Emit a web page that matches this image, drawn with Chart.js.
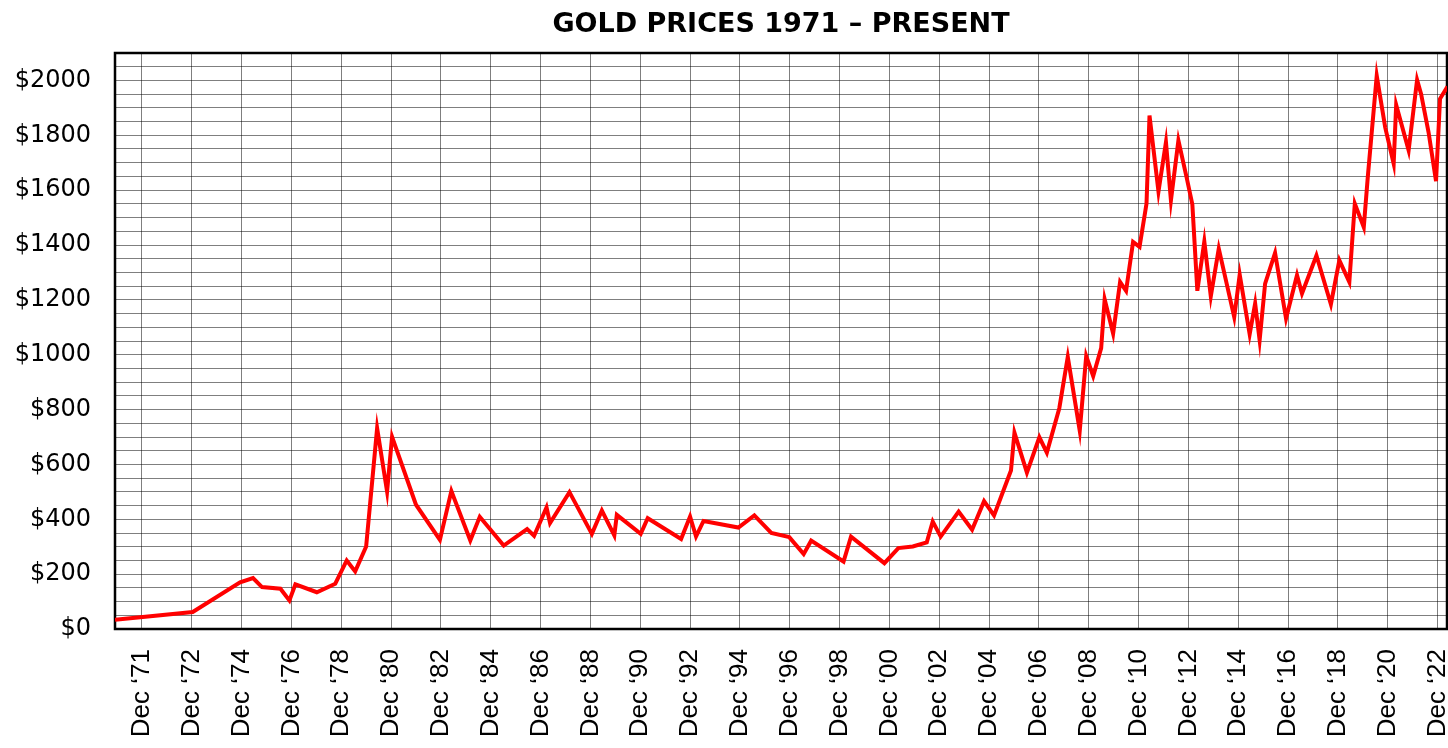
<!DOCTYPE html>
<html>
<head>
<meta charset="utf-8">
<script src="https://cdn.jsdelivr.net/npm/chart.js@4"></script>
<style>
  html, body { margin: 0; padding: 0; background: #fff; overflow: hidden; }
  #wrap { width: 1448px; height: 748px; }
</style>
</head>
<body>
<div id="wrap"><canvas id="gold"></canvas></div>
<script>
// tick labels, one per vertical grid line
const yearLabels = [
    'Dec \u201871', 'Dec \u201872', 'Dec \u201874', 'Dec \u201876', 'Dec \u201878',
    'Dec \u201880', 'Dec \u201882', 'Dec \u201884', 'Dec \u201886', 'Dec \u201888',
    'Dec \u201890', 'Dec \u201892', 'Dec \u201894', 'Dec \u201896', 'Dec \u201898',
    'Dec \u201800', 'Dec \u201802', 'Dec \u201804', 'Dec \u201806', 'Dec \u201808',
    'Dec \u201810', 'Dec \u201812', 'Dec \u201814', 'Dec \u201816', 'Dec \u201818',
    'Dec \u201820', 'Dec \u201822'
];

// position along the label axis (0 = Dec '71, 1 = Dec '72, 2 = Dec '74 ...)
const pos = [
    -0.54, 1.02, 1.97, 2.23, 2.41, 2.78, 2.96, 3.08, 3.51, 3.88,
    4.11, 4.28, 4.50, 4.72, 4.92, 5.02, 5.50, 5.98, 6.21, 6.59,
    6.78, 7.26, 7.73, 7.87, 8.12, 8.19, 8.58, 9.03, 9.23, 9.48,
    9.53, 10.01, 10.15, 10.82, 11.00, 11.12, 11.27, 11.97, 12.29, 12.63,
    12.99, 13.28, 13.43, 14.08, 14.23, 14.90, 15.18, 15.47, 15.75, 15.87,
    16.03, 16.39, 16.66, 16.90, 17.10, 17.44, 17.51, 17.76, 18.01, 18.16,
    18.41, 18.58, 18.82, 18.95, 19.09, 19.25, 19.32, 19.49, 19.63, 19.75,
    19.89, 20.02, 20.16, 20.22, 20.40, 20.55, 20.65, 20.80, 20.97, 21.08,
    21.18, 21.32, 21.45, 21.61, 21.92, 22.03, 22.23, 22.34, 22.43, 22.54,
    22.74, 22.96, 23.18, 23.28, 23.57, 23.86, 24.03, 24.23, 24.34, 24.52,
    24.60, 24.78, 24.95, 25.12, 25.17, 25.42, 25.59, 25.67, 25.82, 25.97,
    26.05, 26.20
];

// gold price, USD per ounce
const price = [
    34, 62, 170, 186, 153, 147, 104, 163, 134, 165,
    250, 210, 301, 732, 501, 701, 453, 325, 503, 323,
    409, 304, 364, 340, 443, 386, 499, 347, 432, 341,
    416, 347, 404, 328, 410, 337, 394, 370, 414, 350,
    335, 273, 322, 246, 337, 240, 295, 301, 316, 392,
    337, 428, 362, 466, 414, 578, 716, 570, 699, 643,
    805, 992, 723, 995, 922, 1024, 1202, 1077, 1265, 1233,
    1411, 1393, 1551, 1872, 1595, 1775, 1563, 1781, 1642, 1548,
    1233, 1413, 1213, 1387, 1137, 1292, 1075, 1187, 1053, 1259,
    1371, 1132, 1290, 1223, 1362, 1184, 1344, 1265, 1551, 1465,
    1647, 2017, 1829, 1696, 1911, 1745, 2002, 1951, 1811, 1633,
    1933, 1978
];

const points = pos.map((p, i) => ({ x: p, y: price[i] }));

// thick black frame round the plot area
const framePlugin = {
    id: 'frame',
    beforeDatasetsDraw(chart) {
        const a = chart.chartArea;
        const ctx = chart.ctx;
        ctx.save();
        ctx.strokeStyle = '#000';
        ctx.lineWidth = 2.5;
        ctx.strokeRect(a.left, a.top, a.right - a.left, a.bottom - a.top);
        ctx.restore();
    }
};

new Chart(document.getElementById('gold'), {
    type: 'line',
    data: {
        datasets: [{
            data: points,
            borderColor: '#ff0000',
            borderWidth: 4,
            pointRadius: 0,
            tension: 0,
            fill: false
        }]
    },
    options: {
        responsive: true,
        maintainAspectRatio: false,
        animation: false,
        layout: { padding: { left: 0, right: 1, top: 0, bottom: 0 } },
        plugins: {
            legend: { display: false },
            tooltip: { enabled: false },
            title: {
                display: true,
                text: 'GOLD PRICES 1971 \u2013 PRESENT',
                fullSize: false,
                color: '#000',
                font: { family: 'DejaVu Sans', size: 27, weight: 'bold', lineHeight: 1.2 },
                padding: { top: 9, bottom: 11.6 }
            }
        },
        scales: {
            x: {
                type: 'linear',
                min: -0.54,
                max: 26.19,
                afterBuildTicks(scale) {
                    scale.ticks = yearLabels.map((_, i) => ({ value: i }));
                },
                afterFit(scale) {
                    scale.height = 119;
                    scale.paddingLeft = 0;
                    scale.paddingRight = 0;
                },
                border: { display: false },
                grid: { color: 'rgba(0,0,0,0.5)', lineWidth: 1, drawTicks: false },
                ticks: {
                    autoSkip: false,
                    minRotation: 90,
                    maxRotation: 90,
                    padding: 20,
                    color: '#000',
                    font: { family: 'Liberation Sans', size: 26 },
                    callback: (v) => yearLabels[v]
                }
            },
            y: {
                min: 0,
                max: 2100,
                afterFit(scale) {
                    scale.width = 115;
                    scale.paddingTop = 0;
                    scale.paddingBottom = 0;
                },
                border: { display: false },
                grid: { color: 'rgba(0,0,0,0.5)', lineWidth: 1, drawTicks: false },
                ticks: {
                    stepSize: 50,
                    autoSkip: false,
                    padding: 24,
                    color: '#000',
                    font: { family: 'DejaVu Sans', size: 24 },
                    callback: (v) => (v % 200 === 0 ? '$' + v : '')
                }
            }
        }
    },
    plugins: [framePlugin]
});
</script>
</body>
</html>
